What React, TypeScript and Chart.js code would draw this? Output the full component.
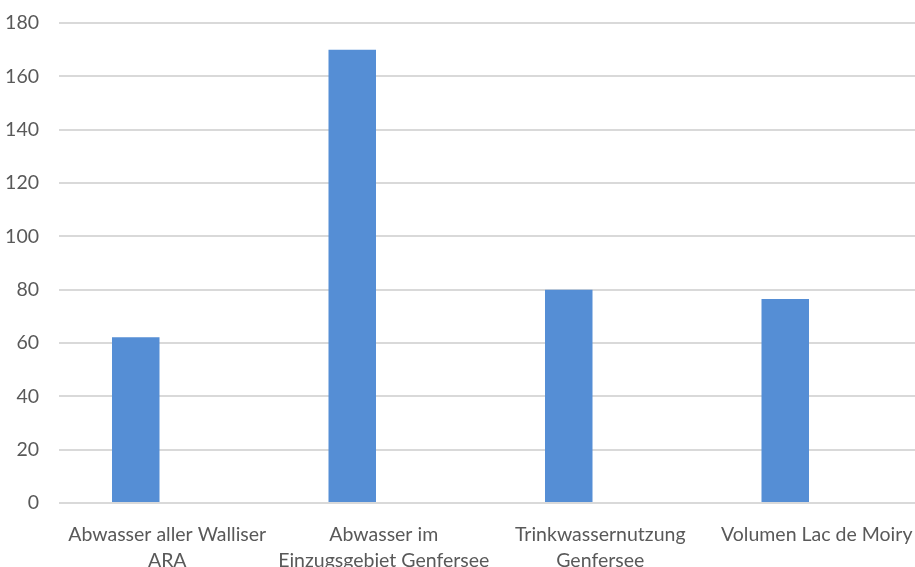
import React, { useEffect, useRef } from "react";
import { Chart, registerables } from "chart.js";

Chart.register(...registerables);

const categories: string[][] = [
  ["Abwasser aller Walliser", "ARA"],
  ["Abwasser im", "Einzugsgebiet Genfersee"],
  ["Trinkwassernutzung", "Genfersee"],
  ["Volumen Lac de Moiry"],
];
const volumes: number[] = [62.2, 170, 80, 76.5];
const emptySeries: (number | null)[] = [null, null, null, null];
const yMin = 0;
const yMax = 180;
const yStep = 20;

const CANVAS_W = 925;
const CANVAS_H = 600;
const TEXT = "#595959";
const GRID = "#d9d9d9";
const BAR = "#558ed5";
const FONT = "Lato, 'Liberation Sans', sans-serif";

export default function App() {
  const ref = useRef<HTMLCanvasElement | null>(null);

  useEffect(() => {
    if (!ref.current) return;
    const chart = new Chart(ref.current, {
      type: "bar",
      data: {
        labels: categories,
        datasets: [
          {
            label: "Volumen",
            data: volumes,
            backgroundColor: BAR,
            borderWidth: 0,
            categoryPercentage: 0.582,
            barPercentage: 0.754,
          },
          {
            label: "",
            data: emptySeries,
            backgroundColor: BAR,
            borderWidth: 0,
            categoryPercentage: 0.582,
            barPercentage: 0.754,
          },
        ],
      },
      options: {
        responsive: false,
        animation: false,
        devicePixelRatio: 1,
        layout: { padding: { top: 23, right: 0, bottom: 0, left: 0 } },
        plugins: {
          legend: { display: false },
          tooltip: { enabled: false },
          title: { display: false },
        },
        scales: {
          x: {
            grid: {
              display: false,
              drawTicks: true,
              tickLength: 18,
              tickColor: "rgba(0,0,0,0)",
            },
            border: { display: false },
            ticks: {
              color: TEXT,
              font: { family: FONT, size: 19.5, lineHeight: 1.37 },
              padding: 0,
              maxRotation: 0,
              autoSkip: false,
            },
            afterFit: (s: any) => {
              s.height = CANVAS_H - 503;
            },
          },
          y: {
            min: yMin,
            max: yMax,
            grid: {
              color: GRID,
              lineWidth: 2,
              drawTicks: true,
              tickLength: 17,
              tickColor: "rgba(0,0,0,0)",
            },
            border: { display: false },
            ticks: {
              stepSize: yStep,
              color: TEXT,
              font: { family: FONT, size: 19.5 },
              padding: 3,
            },
            afterFit: (s: any) => {
              s.width = 59;
            },
          },
        },
      },
    });
    return () => chart.destroy();
  }, []);

  return (
    <div
      style={{
        position: "fixed",
        left: 0,
        top: 0,
        width: 915,
        height: 567,
        overflow: "hidden",
        background: "#fff",
      }}
    >
      <canvas
        ref={ref}
        width={CANVAS_W}
        height={CANVAS_H}
        style={{ width: CANVAS_W, height: CANVAS_H, display: "block" }}
      />
    </div>
  );
}
